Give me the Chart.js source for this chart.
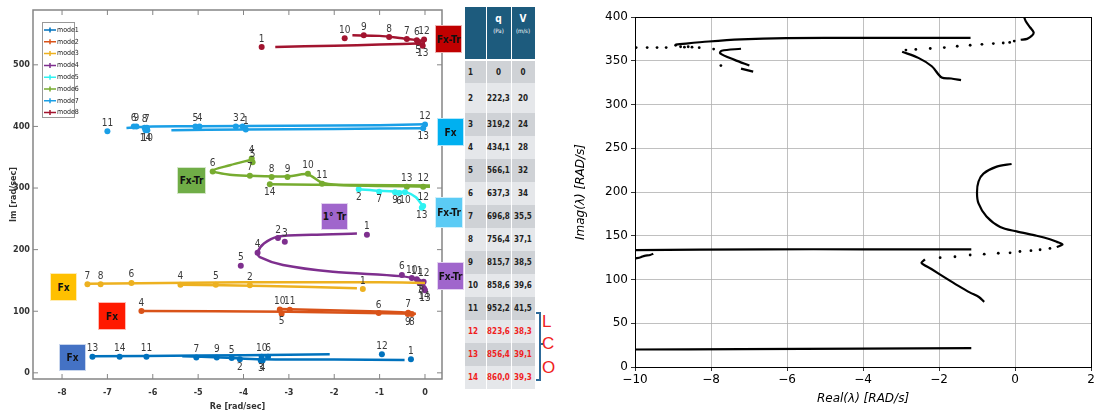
<!DOCTYPE html>
<html>
<head>
<meta charset="utf-8">
<script src="https://cdn.jsdelivr.net/npm/chart.js@4.4.0/dist/chart.umd.min.js"></script>
<style>
  body { margin: 0; background: #fff; width: 1108px; height: 410px; overflow: hidden; position: relative; }
  #left { position: absolute; left: 0; top: 0; }
  #right { position: absolute; left: 565px; top: 0; }
  .tag { position: absolute; display: flex; align-items: center; justify-content: center;
         font: bold 10px "Liberation Sans Narrow", "DejaVu Sans Condensed", sans-serif; color: #111;
         box-sizing: border-box; border: 1px solid rgba(255,255,255,0.7); z-index: 2; }
  #tbl { position: absolute; left: 465px; top: 7px; border-collapse: collapse; table-layout: fixed;
         font: bold 8px "Liberation Sans Narrow", "DejaVu Sans Condensed", sans-serif; color: #222; z-index: 2; }
  #tbl td, #tbl th { padding: 0; border-right: 1px solid #fff; text-align: center; }
  #tbl th { background: #1d5b7d; color: #fff; vertical-align: top; padding-top: 6px; height: 46px; border-bottom: 2px solid #fff; }
  #tbl th small { display: block; font-size: 6px; font-weight: normal; margin-top: 3px; }
  #tbl th b { font-size: 10px; }
  #tbl td:first-child { text-align: left; padding-left: 3px; }
  #tbl tr { height: 23px; }
  #tbl tr.r2 { height: 30px; }
  #tbl tr.odd td { background: #cfd2d6; }
  #tbl tr.even td { background: #e5e7ea; }
  #tbl tr.loc td { color: #f01e1e; }
  .brk { position: absolute; left: 535px; top: 312px; width: 4px; height: 65px; border: 2px solid #2e6a99; border-left: none; }
  .brk2 { position: absolute; left: 540px; top: 343px; width: 3px; height: 2px; background: #2e6a99; }
  .lco { position: absolute; left: 542px; color: #f02020; font: 17px "Liberation Sans", sans-serif; }
</style>
</head>
<body>
<canvas id="left" width="465" height="410"></canvas>
<canvas id="right" width="543" height="410"></canvas>
<table id="tbl">
  <colgroup><col style="width:21px"><col style="width:25px"><col style="width:24px"></colgroup>
  <thead><tr><th></th><th><b>q</b><small>(Pa)</small></th><th><b>V</b><small>(m/s)</small></th></tr></thead>
  <tbody id="tbody"></tbody>
</table>
<div class="brk"></div><div class="brk2"></div>
<div class="lco" style="top:312px">L</div>
<div class="lco" style="top:334px">C</div>
<div class="lco" style="top:358px">O</div>

<div class="tag" style="left:435px;top:25px;width:27px;height:28px;background:#c00000">Fx-Tr</div>
<div class="tag" style="left:437px;top:118px;width:27px;height:28px;background:#00b0f0">Fx</div>
<div class="tag" style="left:435px;top:197px;width:28px;height:31px;background:#5bcbf5">Fx-Tr</div>
<div class="tag" style="left:437px;top:262px;width:27px;height:28px;background:#a066cc">Fx-Tr</div>
<div class="tag" style="left:321px;top:203px;width:27px;height:27px;background:#a066cc">1° Tr</div>
<div class="tag" style="left:177px;top:167px;width:29px;height:27px;background:#70ad47">Fx-Tr</div>
<div class="tag" style="left:50px;top:273px;width:27px;height:28px;background:#ffc000">Fx</div>
<div class="tag" style="left:98px;top:302px;width:28px;height:28px;background:#ff1a00">Fx</div>
<div class="tag" style="left:59px;top:344px;width:27px;height:27px;background:#4472c4">Fx</div>

<script>
// ---- tableau des cas ----
const caseNum = [1, 2, 3, 4, 5, 6, 7, 8, 9, 10, 11, 12, 13, 14];
const qPa = [0, 222.3, 319.2, 434.1, 566.1, 637.3, 696.8, 756.4, 815.7, 858.6, 952.2, 823.6, 856.4, 860.0];
const vMs = [0, 20, 24, 28, 32, 34, 35.5, 37.1, 38.5, 39.6, 41.5, 38.3, 39.1, 39.3];
const locCases = [12, 13, 14];

// ---- graphe de gauche : lieux des modes (Re, Im) ----
const modeNames = ['mode1', 'mode2', 'mode3', 'mode4', 'mode5', 'mode6', 'mode7', 'mode8'];

const mode1Lines = [
  [[-7.35, 27], [-5, 28], [-3, 29.5], [-2.1, 30]],
  [[-5.35, 27], [-4.5, 25], [-3.6, 22], [-2, 21.5], [-0.45, 21]]
];
const mode1Points = [[-0.31, 22, 1], [-4.08, 22, 2], [-3.62, 20, 3], [-3.58, 20, 4], [-4.26, 24, 5], [-3.46, 26, 6],
  [-5.04, 25, 7], [-4.59, 25, 9], [-3.6, 26, 10], [-6.14, 26, 11], [-0.95, 30, 12], [-7.33, 26, 13], [-6.73, 26, 14]];

const mode2Lines = [
  [[-6.25, 100.5], [-3, 99], [-0.2, 96]],
  [[-3.2, 103.5], [-1, 99.5], [-0.3, 97.5]]
];
const mode2Points = [[-6.25, 100.5, 4], [-3.16, 96, 5], [-1.02, 97, 6], [-0.37, 97.5, 7], [-0.29, 95.6, 8],
  [-0.38, 95.6, 9], [-3.2, 103, 10], [-2.98, 102.6, 11]];

const mode3Lines = [
  [[-7.44, 144.5], [-4, 147], [-1, 147], [0, 146]],
  [[-5.39, 143], [-3.5, 141], [-1.5, 137.5]]
];
const mode3Points = [[-1.37, 136, 1], [-3.86, 142, 2], [-5.39, 143, 4], [-4.61, 143, 5], [-6.47, 146, 6],
  [-7.44, 144, 7], [-7.15, 144, 8]];

const mode4Lines = [
  [[-1.5, 226], [-2.5, 224], [-3.24, 221], [-3.55, 210], [-3.69, 195], [-3.64, 188], [-3.13, 175],
   [-2.03, 164], [-0.55, 157], [-0.11, 151], [-0.03, 145], [0, 136]]
];
const mode4Points = [[-1.28, 224, 1], [-3.24, 219, 2], [-3.09, 213, 3], [-3.69, 195, 4], [-4.06, 174, 5],
  [-0.51, 159, 6], [-0.12, 146, 7], [-0.08, 146, 8], [-0.29, 154, 10], [-0.18, 152, 11], [-0.03, 148, 12],
  [0, 134, 13], [-0.02, 137, 14]];

const mode5Lines = [
  [[-1.46, 298], [-1, 295.5], [-0.6, 294], [-0.4, 293], [-0.2, 285], [-0.04, 270]]
];
const mode5Points = [[-1.46, 298, 2], [-0.57, 292, 6], [-1.01, 294, 7], [-0.66, 293, 9], [-0.44, 293, 10],
  [-0.04, 271, 12], [-0.07, 268, 13]];

const mode6Lines = [
  [[-3.83, 346], [-4.3, 337], [-4.69, 328], [-4.3, 321.5], [-3.86, 320], [-3.0, 319], [-2.59, 322.5],
   [-2.28, 309], [-1.9, 305], [-1, 303.5], [0.11, 302]],
  [[-3.42, 306], [-1.5, 305], [0.11, 304]]
];
const mode6Points = [[-3.82, 348, 4], [-3.8, 342, 5], [-4.68, 327, 6], [-3.86, 320, 7], [-3.38, 318, 8],
  [-3.03, 318, 9], [-2.58, 323, 10], [-2.27, 307, 11], [-0.04, 302, 12], [-0.4, 302, 13], [-3.42, 306, 14]];

const mode7Lines = [
  [[-6.58, 397.6], [-6, 400], [-5, 400.3], [-3, 401], [-1, 402], [0, 403.6]],
  [[-5.59, 394], [-4, 395], [-2, 396], [0, 397]]
];
const mode7Points = [[-3.95, 395, 1], [-4.02, 400, 2], [-4.17, 400, 3], [-4.97, 400, 4], [-5.06, 400, 5],
  [-6.42, 400, 6], [-6.13, 398, 7], [-6.18, 398, 8], [-6.36, 400, 9], [-6.12, 394, 10], [-7.0, 392, 11],
  [0, 403, 12], [-0.04, 397, 13], [-6.16, 394, 14]];

const mode8Lines = [
  [[-1.6, 548], [-1.0, 547], [-0.5, 543], [-0.15, 540], [0, 538]],
  [[-3.3, 529], [-2, 531], [-1, 533], [0, 535]]
];
const mode8Points = [[-3.6, 529, 1], [-0.15, 536, 5], [-0.18, 540, 6], [-0.4, 542, 7], [-0.79, 545, 8],
  [-1.35, 548, 9], [-1.77, 543, 10], [-0.02, 541, 12], [-0.05, 531, 13]];

const xTicksLeft = [-8, -7, -6, -5, -4, -3, -2, -1, 0];
const yTicksLeft = [0, 100, 200, 300, 400, 500];

// numéros affichés sous le point plutôt qu'au-dessus
const labelsBelow = [[2, 3, 4], [5, 8, 9], [], [7, 8, 13, 14], [2, 6, 7, 9, 10, 13], [14], [10, 13, 14], [5, 13]];

// ---- graphe de droite : valeurs propres (Real, Imag) ----
const rBottomLine = [[-10, 20], [-7.2, 20.5], [-4, 21], [-1.15, 21.5]];
const rMidLine = [[-10, 133.5], [-6.6, 134.5], [-4, 134.5], [-1.15, 134.5]];
const rCluster = [[-10, 124], [-9.85, 125.5], [-9.75, 127], [-9.6, 128], [-9.52, 129.5]];
const rLowerArc = [[-2.37, 123], [-2.46, 119], [-2.2, 112], [-1.8, 101], [-1.5, 93], [-1.18, 85], [-0.95, 80], [-0.81, 74.4]];
const rLoopDots = [[-1.97, 125], [-1.58, 126], [-1.18, 128], [-0.81, 129], [-0.44, 130], [-0.13, 130.5],
  [0.13, 132], [0.42, 133], [0.66, 134], [0.92, 135.5]];
const rUpperArc = [[1.1, 137], [1.25, 140], [1.1, 143], [0.92, 146], [0.57, 150], [0.04, 155], [-0.39, 160],
  [-0.75, 172], [-0.96, 187], [-1.0, 199.5], [-0.96, 212], [-0.83, 221], [-0.48, 229], [-0.09, 232]];
const rTopLine = [[-8.93, 368.5], [-8.06, 372], [-7.21, 374.4], [-6.02, 375.8], [-4, 376.2], [-1.17, 376.2]];
const rTopLeftDots = [[-9.97, 365.1], [-9.68, 365.1], [-9.42, 365.1], [-9.18, 365.1], [-8.93, 367.7], [-8.8, 366],
  [-8.7, 365.5], [-8.6, 366], [-8.5, 365.5], [-8.31, 365], [-7.93, 363.3]];
const rLeftS = [[-7.21, 363.7], [-7.72, 361.4], [-7.76, 358.5], [-7.38, 351], [-6.99, 344.5]];
const rLeftSDot = [[-7.74, 344.5]];
const rLeftSeg = [[-7.21, 341], [-6.89, 337.5]];
const rRightCurve = [[-2.97, 360.3], [-2.53, 353], [-2.19, 343.7], [-1.93, 330.8], [-1.68, 329.7], [-1.42, 327.9]];
const rRightDots = [[-2.87, 362.2], [-2.61, 362.9], [-2.23, 364], [-1.86, 365.1], [-1.52, 366.6], [-1.18, 367.7],
  [-0.87, 368.8], [-0.57, 369.6], [-0.31, 370.3], [-0.14, 371], [-0.02, 372.5]];
const rRightHook = [[0.15, 374], [0.32, 375], [0.45, 378.8], [0.49, 382.5], [0.4, 388], [0.28, 395.4], [0.24, 400]];

const xTicksRight = [-10, -8, -6, -4, -2, 0, 2];
const yTicksRight = [0, 50, 100, 150, 200, 250, 300, 350, 400];

// ---- remplissage du tableau ----
const fmtQ = v => v === 0 ? '0' : v.toFixed(1).replace('.', ',');
const fmtV = v => Number.isInteger(v) ? String(v) : v.toFixed(1).replace('.', ',');
const tbody = document.getElementById('tbody');
caseNum.forEach((n, i) => {
  const tr = document.createElement('tr');
  tr.className = (i % 2 === 0 ? 'odd' : 'even') + (n === 2 ? ' r2' : '') + (locCases.includes(n) ? ' loc' : '');
  tr.innerHTML = '<td>' + n + '</td><td>' + fmtQ(qPa[i]) + '</td><td>' + fmtV(vMs[i]) + '</td>';
  tbody.appendChild(tr);
});

// ---- graphe gauche ----
const modeColors = ['#0072bd', '#d95319', '#edb120', '#7e2f8e', '#2ef2f2', '#77ac30', '#1a9fe6', '#a2142f'];
const allLines = [mode1Lines, mode2Lines, mode3Lines, mode4Lines, mode5Lines, mode6Lines, mode7Lines, mode8Lines];
const allPoints = [mode1Points, mode2Points, mode3Points, mode4Points, mode5Points, mode6Points, mode7Points, mode8Points];
const narrow = '"Liberation Sans Narrow", "DejaVu Sans Condensed", sans-serif';

const leftDatasets = [];
allLines.forEach((segs, m) => {
  segs.forEach((seg, k) => {
    leftDatasets.push({
      label: modeNames[m], legendEntry: k === 0,
      data: seg.map(p => ({ x: p[0], y: p[1] })),
      showLine: true, borderColor: modeColors[m], borderWidth: 2.5, pointRadius: 0, tension: 0.3
    });
  });
});
allPoints.forEach((pts, m) => {
  leftDatasets.push({
    label: modeNames[m] + ' pts',
    data: pts.map(p => ({ x: p[0], y: p[1] })),
    nums: pts.map(p => p[2]), below: labelsBelow[m],
    showLine: false, pointRadius: 3, pointBorderWidth: 0, backgroundColor: modeColors[m], borderColor: modeColors[m]
  });
});

// cadre + graduations vers l'intérieur, façon matlab
const boxFrame = {
  id: 'boxFrame',
  afterDraw(chart) {
    const { ctx, chartArea: a, scales: { x, y } } = chart;
    ctx.save();
    ctx.strokeStyle = '#858585';
    ctx.lineWidth = 1.5;
    ctx.strokeRect(a.left, a.top, a.right - a.left, a.bottom - a.top);
    ctx.lineWidth = 1;
    ctx.beginPath();
    xTicksLeft.forEach(v => {
      const px = x.getPixelForValue(v);
      ctx.moveTo(px, a.bottom); ctx.lineTo(px, a.bottom - 5);
      ctx.moveTo(px, a.top); ctx.lineTo(px, a.top + 5);
    });
    yTicksLeft.forEach(v => {
      const py = y.getPixelForValue(v);
      ctx.moveTo(a.left, py); ctx.lineTo(a.left + 5, py);
      ctx.moveTo(a.right, py); ctx.lineTo(a.right - 5, py);
    });
    ctx.stroke();
    ctx.restore();
  }
};

// numéros des cas à côté des points
const numLabels = {
  id: 'numLabels',
  afterDatasetsDraw(chart) {
    const { ctx, scales: { x, y } } = chart;
    ctx.save();
    ctx.font = '10px ' + narrow;
    ctx.fillStyle = '#3a3a3a';
    ctx.textAlign = 'center';
    chart.data.datasets.forEach(ds => {
      if (!ds.nums) return;
      ds.data.forEach((p, i) => {
        const n = ds.nums[i];
        const px = x.getPixelForValue(p.x), py = y.getPixelForValue(p.y);
        if (ds.below.includes(n)) { ctx.textBaseline = 'top'; ctx.fillText(n, px, py + 3); }
        else { ctx.textBaseline = 'bottom'; ctx.fillText(n, px, py - 3); }
      });
    });
    ctx.restore();
  }
};

// légende dans le coin haut-gauche
const boxLegend = {
  id: 'boxLegend',
  afterDraw(chart) {
    const { ctx, chartArea: a } = chart;
    const x0 = a.left + 9, y0 = 22, w = 32, h = 95;
    ctx.save();
    ctx.fillStyle = '#fff';
    ctx.fillRect(x0, y0, w, h);
    ctx.strokeStyle = '#999';
    ctx.lineWidth = 1;
    ctx.strokeRect(x0 + 0.5, y0 + 0.5, w, h);
    ctx.font = '7px ' + narrow;
    ctx.textBaseline = 'middle';
    ctx.textAlign = 'left';
    const entries = chart.data.datasets.filter(d => d.legendEntry);
    entries.forEach((d, i) => {
      const yy = y0 + 8 + i * 11.8;
      ctx.strokeStyle = d.borderColor;
      ctx.lineWidth = 1.5;
      ctx.beginPath();
      ctx.moveTo(x0 + 2, yy); ctx.lineTo(x0 + 14, yy);
      ctx.moveTo(x0 + 8, yy - 2.5); ctx.lineTo(x0 + 8, yy + 2.5);
      ctx.stroke();
      ctx.fillStyle = '#222';
      ctx.fillText(d.label, x0 + 15, yy);
    });
    ctx.restore();
  }
};

new Chart(document.getElementById('left'), {
  type: 'scatter',
  data: { datasets: leftDatasets },
  options: {
    responsive: false, animation: false,
    layout: { padding: { top: 10, right: 23, left: 0, bottom: 0 } },
    plugins: { legend: { display: false }, tooltip: { enabled: false } },
    scales: {
      x: {
        type: 'linear', min: -8.64, max: 0.375,
        afterBuildTicks: s => { s.ticks = xTicksLeft.map(v => ({ value: v })); },
        afterFit: s => { s.height = 31; },
        grid: { display: false, drawTicks: false }, border: { display: false },
        ticks: { font: { family: narrow, size: 9, weight: 'bold' }, color: '#333', padding: 8, maxRotation: 0 },
        title: { display: true, text: 'Re [rad/sec]', font: { family: narrow, size: 9, weight: 'bold' }, color: '#333', padding: { top: 0, bottom: -2 } }
      },
      y: {
        type: 'linear', min: -10, max: 589,
        afterBuildTicks: s => { s.ticks = yTicksLeft.map(v => ({ value: v })); },
        afterFit: s => { s.width = 33; },
        grid: { display: false, drawTicks: false }, border: { display: false },
        ticks: { font: { family: narrow, size: 9, weight: 'bold' }, color: '#333', padding: 3 },
        title: { display: true, text: 'Im [rad/sec]', font: { family: narrow, size: 9, weight: 'bold' }, color: '#333', padding: { top: 8, bottom: 0 } }
      }
    }
  },
  plugins: [boxFrame, numLabels, boxLegend]
});

// ---- graphe droite ----
const lineSets = [rBottomLine, rMidLine, rCluster, rLowerArc, rUpperArc, rTopLine, rLeftS, rLeftSeg, rRightCurve, rRightHook];
const dotSets = [rLoopDots, rTopLeftDots, rLeftSDot, rRightDots];
const rightDatasets = [];
lineSets.forEach(s => rightDatasets.push({
  data: s.map(p => ({ x: p[0], y: p[1] })), showLine: true, borderColor: '#000', borderWidth: 2.2,
  pointRadius: 0, tension: 0.3
}));
dotSets.forEach(s => rightDatasets.push({
  data: s.map(p => ({ x: p[0], y: p[1] })), showLine: false, pointRadius: 1.4, pointBorderWidth: 0,
  backgroundColor: '#000'
}));

const minus = v => (v < 0 ? '\u2212' + Math.abs(v) : String(v));
const dv = 'DejaVu Sans';

const spines = {
  id: 'spines',
  afterDatasetsDraw(chart) {
    const { ctx, chartArea: a } = chart;
    ctx.save();
    ctx.strokeStyle = '#000';
    ctx.lineWidth = 1;
    ctx.strokeRect(Math.round(a.left) + 0.5, Math.round(a.top) + 0.5, Math.round(a.right - a.left), Math.round(a.bottom - a.top));
    ctx.restore();
  }
};

new Chart(document.getElementById('right'), {
  type: 'scatter',
  data: { datasets: rightDatasets },
  options: {
    responsive: false, animation: false,
    layout: { padding: { top: 17, right: 17, left: 0, bottom: 0 } },
    plugins: { legend: { display: false }, tooltip: { enabled: false } },
    scales: {
      x: {
        type: 'linear', min: -10, max: 2,
        afterBuildTicks: s => { s.ticks = xTicksRight.map(v => ({ value: v })); },
        afterFit: s => { s.height = 43; },
        grid: { color: '#b0b0b0', lineWidth: 0.8, tickColor: '#000', tickLength: 4 },
        border: { color: '#000', width: 1 },
        ticks: { font: { family: dv, size: 12 }, color: '#000', padding: 2, maxRotation: 0, callback: minus },
        title: { display: true, text: 'Real(λ) [RAD/s]', font: { family: dv, size: 12, style: 'italic' }, color: '#000', padding: { top: 0, bottom: 4 } }
      },
      y: {
        type: 'linear', min: 0, max: 400,
        afterBuildTicks: s => { s.ticks = yTicksRight.map(v => ({ value: v })); },
        afterFit: s => { s.width = 70; },
        grid: { color: '#b0b0b0', lineWidth: 0.8, tickColor: '#000', tickLength: 4 },
        border: { color: '#000', width: 1 },
        ticks: { font: { family: dv, size: 12 }, color: '#000', padding: 3, callback: minus },
        title: { display: true, text: 'Imag(λ) [RAD/s]', font: { family: dv, size: 12, style: 'italic' }, color: '#000', padding: { top: 9, bottom: 0 } }
      }
    }
  },
  plugins: [spines]
});
</script>
</body>
</html>
